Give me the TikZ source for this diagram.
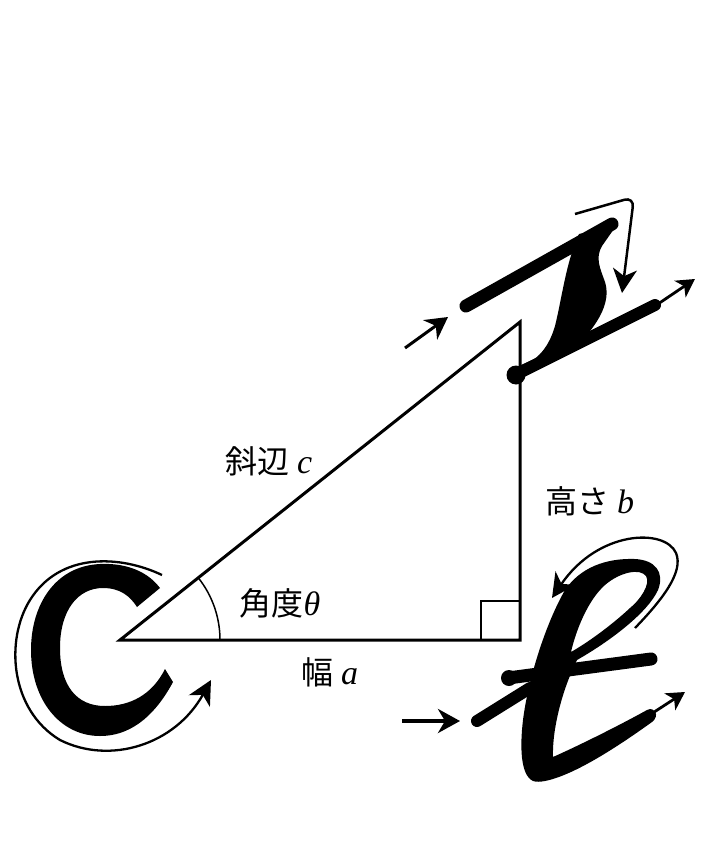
\documentclass[tikz,border=0pt]{standalone}
\usepackage{fontspec}
\newfontfamily\cjk{Noto Sans CJK JP}
\newfontfamily\tms{Liberation Serif}
\usetikzlibrary{arrows.meta,calc}
\newcommand{\mv}[1]{{\tms\itshape\fontsize{17}{19}\selectfont #1}}
\begin{document}
\begin{tikzpicture}[x=0.5pt,y=-0.5pt,
  edge/.style={line width=1.5pt, line join=miter},
  lbl/.style={font=\fontsize{16}{19}\selectfont, inner sep=0pt},
  pen/.style={line width=#1, line cap=round},
  thinarrow/.style={line width=1.15pt, -{Stealth[length=12pt,width=12pt,inset=3.5pt]}},
  inarrow/.style={line width=#1, -{Stealth[length=11pt,width=12pt,inset=3.5pt]}},
  outarrow/.style={line width=1.4pt, -{Stealth[length=9pt,width=10pt,inset=2.5pt]}}]
\useasboundingbox (0,0) rectangle (714,850);

% triangle
\coordinate (A) at (120,640);
\coordinate (B) at (520,640);
\coordinate (C) at (520,322);
\draw[edge] (A) -- (B) -- (C) -- cycle;
\draw[line width=0.75pt] ($(A)+(100,0)$) arc[start angle=0,end angle=-38.5,radius=100];
\draw[line width=1pt] ($(B)+(-39,0)$) |- ($(B)+(0,-39)$);

% labels
\node[lbl] (hyp) at (269,461) {\cjk 斜辺 \mv{c}};
\node[lbl] (ang) at (280,603) {\cjk 角度\mv{θ}};
\node[lbl] (wid) at (330,672) {\cjk 幅 \mv{a}};
\node[lbl] (hgt) at (590,501) {\cjk 高さ \mv{b}};

% C glyph
\fill (160,588) .. controls (145,568) and (120,563) .. (100,564)
  .. controls (55,566) and (31,605) .. (31,650)
  .. controls (31,700) and (60,736) .. (100,736)
  .. controls (135,736) and (158,710) .. (173,682)
  -- (165,669)
  .. controls (152,695) and (130,706) .. (105,706)
  .. controls (76,706) and (60,685) .. (60,648)
  .. controls (60,610) and (78,588) .. (103,588)
  .. controls (120,588) and (130,596) .. (137,607) -- cycle;
\coordinate (c0) at (162,575);
\coordinate (c1) at (211,680);
\draw[thinarrow] (c0) .. controls (120,555) and (60,552) .. (30,600)
  .. controls (5,640) and (10,710) .. (60,740)
  .. controls (110,765) and (175,745) .. (c1);

% top glyph
\draw[pen=6.5pt] (466,306) -- (612,224);
\fill (579,234) .. controls (566,262) and (562,298) .. (555,326)
  .. controls (548,350) and (535,364) .. (510,370) -- (586,336)
  .. controls (603,316) and (610,298) .. (605,282)
  .. controls (600,268) and (595,258) .. (602,246) -- (616,226) -- cycle;
\draw[pen=6pt] (517,374) -- (655,305);
\fill (516,375) circle (9.5);
\coordinate (t0) at (405,348);
\coordinate (t1) at (448,317);
\draw[inarrow=1.5pt] (t0) -- (t1);
\coordinate (t2) at (655,306);
\coordinate (t3) at (695,279);
\draw[outarrow] (t2) -- (t3);
\coordinate (h0) at (575,214);
\coordinate (h1) at (634,197);
\coordinate (h2) at (622,293);
\draw[line width=1.25pt, rounded corners=5pt, -{Stealth[length=12pt,width=12pt,inset=3.5pt]}] (h0) -- (h1) -- (h2);

% bottom glyph
\fill[even odd rule]
  (533,781) .. controls (520,775) and (520,745) .. (523,720)
  .. controls (528,680) and (545,625) .. (565,590)
  .. controls (580,568) and (605,558) .. (635,559)
  .. controls (655,560) and (665,572) .. (658,590)
  .. controls (648,612) and (612,640) .. (577,660)
  .. controls (562,690) and (552,730) .. (553,757)
  .. controls (580,745) and (620,725) .. (647,710)
  .. controls (655,706) and (660,716) .. (652,722)
  .. controls (620,745) and (575,775) .. (545,781)
  .. controls (540,782) and (536,782) .. (533,781) -- cycle
  (571,652) .. controls (576,630) and (588,600) .. (605,585)
  .. controls (620,572) and (640,568) .. (646,576)
  .. controls (651,584) and (640,600) .. (630,608)
  .. controls (615,622) and (592,640) .. (571,652) -- cycle;
\draw[pen=6pt] (477,721) -- (530,688);
\draw[pen=6.5pt] (508,678) -- (651,659);
\fill (509,678) circle (8);
\coordinate (b0) at (402,721);
\coordinate (b1) at (460,721);
\draw[inarrow=2pt] (b0) -- (b1);
\coordinate (b2) at (648,716);
\coordinate (b3) at (685,692);
\draw[outarrow] (b2) -- (b3);
\coordinate (l0) at (635,628);
\coordinate (l1) at (552,598);
\draw[thinarrow] (l0) .. controls (662,600) and (684,572) .. (676,553)
  .. controls (665,528) and (598,530) .. (l1);
\end{tikzpicture}
\end{document}
